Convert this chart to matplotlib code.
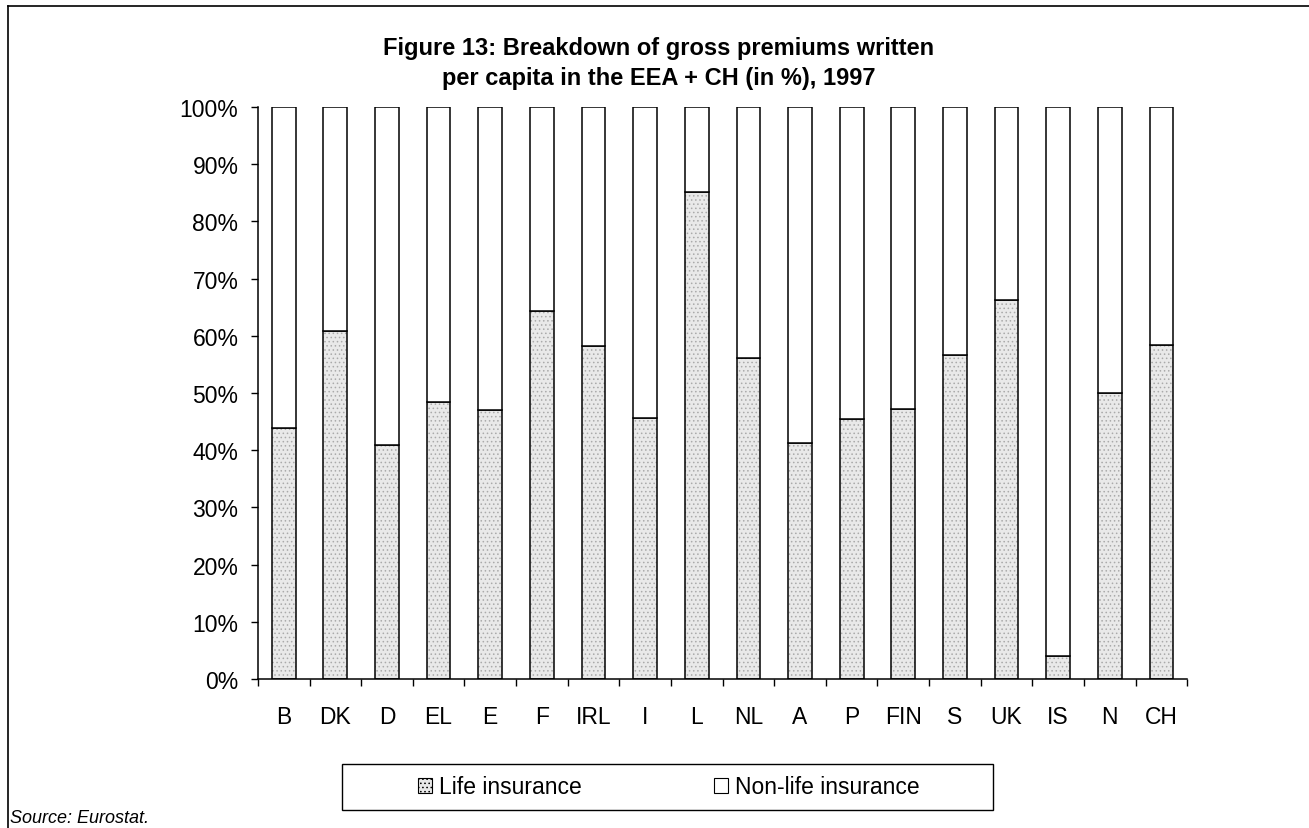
import matplotlib
matplotlib.use("Agg")
import matplotlib.pyplot as plt
from matplotlib.patches import Patch, Rectangle
from matplotlib.lines import Line2D
from matplotlib.ticker import FixedLocator, PercentFormatter
import numpy as np

plt.rcParams['font.family'] = ['Liberation Sans', 'DejaVu Sans']

# Share of gross premiums written per capita, 1997 (%)
countries = ["B", "DK", "D", "EL", "E", "F", "IRL", "I", "L", "NL",
             "A", "P", "FIN", "S", "UK", "IS", "N", "CH"]
life = [43.9, 60.8, 40.9, 48.4, 47.0, 64.3, 58.2, 45.6, 85.2, 56.1,
        41.3, 45.5, 47.2, 56.6, 66.2, 4.0, 50.0, 58.4]
non_life = [100 - v for v in life]
y_ticks = list(range(0, 101, 10))

title_lines = ["Figure 13: Breakdown of gross premiums written",
               "per capita in the EEA + CH (in %), 1997"]
series_names = ["Life insurance", "Non-life insurance"]
source_note = "Source: Eurostat."

fig = plt.figure(figsize=(13.09, 8.29), dpi=100)
ax = fig.add_axes([0.197, 0.1797, 0.710, 0.690])

x = np.arange(len(countries))
width = 0.46
life_face = "#e9e9e9"
dot_color = "#aaaaaa"

# stippled life segment: textured fill first, then the black outline
plt.rcParams['hatch.linewidth'] = 0.6
ax.bar(x, life, width, color=life_face, edgecolor=dot_color, hatch="....",
       linewidth=0, zorder=2)
ax.bar(x, life, width, facecolor="none", edgecolor="black", linewidth=1.1,
       zorder=3)
# non-life segment stacked on top
ax.bar(x, non_life, width, bottom=life, color="white", edgecolor="black",
       linewidth=1.1, zorder=3)

ax.set_xlim(-0.5, len(countries) - 0.5)
ax.set_ylim(0, 100)

ax.set_xticks(x)
ax.set_xticklabels(countries, fontsize=16.5)
ax.tick_params(axis="x", which="major", length=0, pad=19)
ax.xaxis.set_minor_locator(FixedLocator(np.arange(-0.5, len(countries), 1.0)))
ax.tick_params(axis="x", which="minor", length=5, width=1, direction="out")

ax.set_yticks(y_ticks)
ax.yaxis.set_major_formatter(PercentFormatter(decimals=0))
ax.tick_params(axis="y", length=5, width=1, direction="out", pad=9,
               labelsize=16.5)

for side in ["top", "right"]:
    ax.spines[side].set_visible(False)
for side in ["left", "bottom"]:
    ax.spines[side].set_linewidth(1.1)

# title
fig.text(0.503, 0.9337, title_lines[0], ha="center", va="baseline",
         fontsize=17, fontweight="bold")
fig.text(0.503, 0.8975, title_lines[1], ha="center", va="baseline",
         fontsize=17, fontweight="bold")

# legend entries, laid out without the library frame
handles = [
    Patch(facecolor=life_face, edgecolor="black", hatch="....", linewidth=0.8),
    Patch(facecolor="white", edgecolor="black", linewidth=0.8),
]
leg = fig.legend(handles, series_names, loc="center",
                 bbox_to_anchor=(0.511, 0.0495), ncol=2, fontsize=16.5,
                 frameon=False, handlelength=0.6, handleheight=0.6,
                 handletextpad=0.3, columnspacing=5.8, borderpad=0.3)
# rectangular box around the legend
fig.add_artist(Rectangle((342 / 1309, 1 - 811 / 829), 651 / 1309, 46 / 829,
                         transform=fig.transFigure, facecolor="none",
                         edgecolor="black", linewidth=1.0))

# source note
fig.text(0.008, 0.003, source_note, ha="left", va="bottom", fontsize=13,
         style="italic")

# outer frame (top and left edges)
fig.add_artist(Line2D([0.006, 1.0], [0.991, 0.991], color="black",
                      linewidth=1.2, transform=fig.transFigure))
fig.add_artist(Line2D([0.006, 0.006], [0.0, 0.991], color="black",
                      linewidth=1.2, transform=fig.transFigure))

fig.savefig("out.png", dpi=100)
